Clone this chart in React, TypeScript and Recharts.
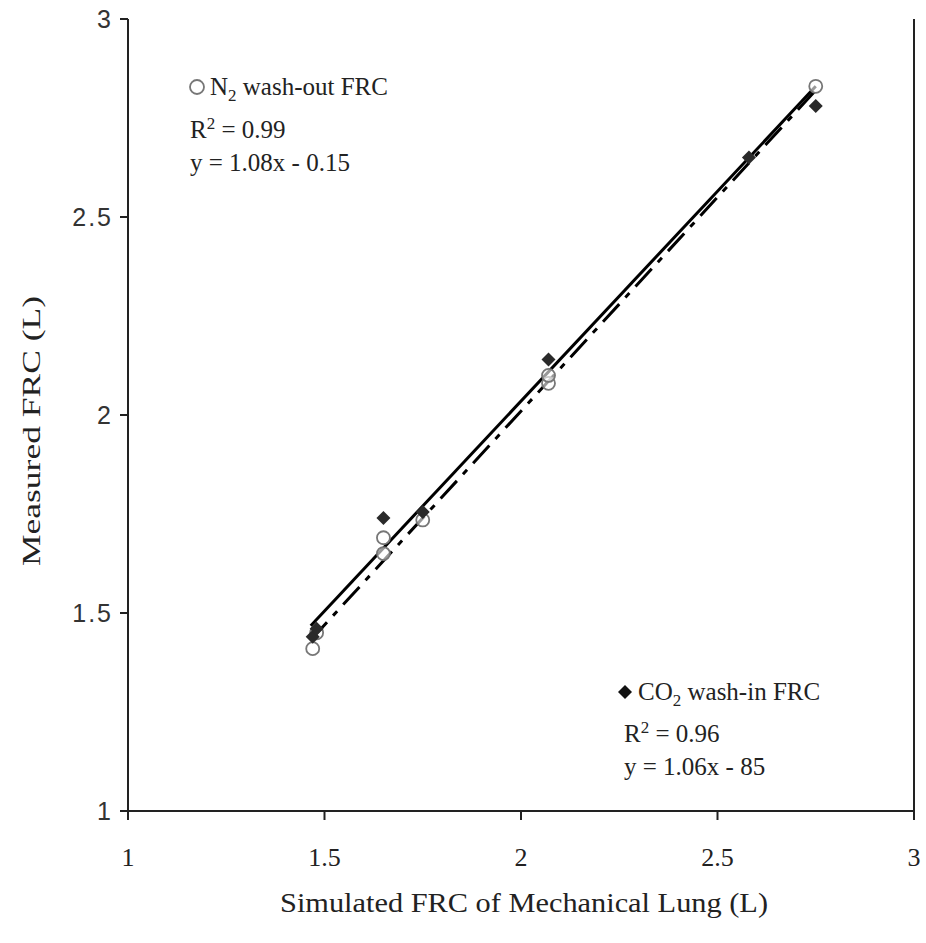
import { ComposedChart, XAxis, YAxis, Scatter, Line, ReferenceLine } from "recharts";

const n2X = [1.47, 1.48, 1.65, 1.65, 1.75, 2.07, 2.07, 2.75];
const n2Y = [1.41, 1.45, 1.69, 1.65, 1.735, 2.08, 2.1, 2.83];
const co2X = [1.47, 1.48, 1.65, 1.75, 2.07, 2.58, 2.75];
const co2Y = [1.44, 1.46, 1.74, 1.755, 2.14, 2.65, 2.78];

// trend line end points
const fitX = [1.465, 2.75];
const n2FitY = [1.432, 2.82];
const co2FitY = [1.468, 2.83];

const ticks = [1, 1.5, 2, 2.5, 3];

const zip = (xs: number[], ys: number[]) => xs.map((x, i) => ({ x, y: ys[i] }));
const n2Data = zip(n2X, n2Y);
const co2Data = zip(co2X, co2Y);
const n2Fit = zip(fitX, n2FitY);
const co2Fit = zip(fitX, co2FitY);

const serif = "'Liberation Serif', 'Times New Roman', serif";

// eslint-disable-next-line @typescript-eslint/no-explicit-any
const OpenCircle = (p: any) => (
  <circle cx={p.cx} cy={p.cy} r={6.5} fill="#fff" fillOpacity={0.6} stroke="#777" strokeWidth={1.8} />
);

// eslint-disable-next-line @typescript-eslint/no-explicit-any
const Diamond = (p: any) => {
  const s = 7;
  return (
    <path
      d={`M${p.cx},${p.cy - s}L${p.cx + s},${p.cy}L${p.cx},${p.cy + s}L${p.cx - s},${p.cy}Z`}
      fill="#2a2a2a"
    />
  );
};

// eslint-disable-next-line @typescript-eslint/no-explicit-any
const YLabel = ({ viewBox }: any) => {
  const cx = 31;
  const cy = viewBox.y + viewBox.height / 2 + 16;
  return (
    <text
      x={cx}
      y={cy}
      transform={`rotate(-90 ${cx} ${cy})`}
      textAnchor="middle"
      dominantBaseline="central"
      fontFamily={serif}
      fontSize={26}
      fill="#222"
      textLength={270}
      lengthAdjust="spacingAndGlyphs"
    >
      Measured FRC (L)
    </text>
  );
};

// eslint-disable-next-line @typescript-eslint/no-explicit-any
const XLabel = ({ viewBox }: any) => (
  <text
    x={viewBox.x + viewBox.width / 2 + 3}
    y={viewBox.y + 101}
    textAnchor="middle"
    fontFamily={serif}
    fontSize={27}
    fill="#222"
    textLength={488}
    lengthAdjust="spacingAndGlyphs"
  >
    Simulated FRC of Mechanical Lung (L)
  </text>
);

const textStyle: React.CSSProperties = {
  position: "absolute",
  fontFamily: serif,
  fontSize: 25,
  color: "#222",
  lineHeight: "37px",
  whiteSpace: "nowrap",
};

export default function App() {
  return (
    <div style={{ position: "absolute", left: 0, top: 0, width: 926, height: 943, background: "#fff" }}>
      <ComposedChart width={926} height={943} margin={{ top: 19, right: 12, bottom: 32, left: 0 }}>
        <XAxis
          type="number"
          dataKey="x"
          domain={[1, 3]}
          ticks={ticks}
          allowDataOverflow
          height={100}
          tickSize={9}
          tickMargin={28}
          stroke="#222"
          strokeWidth={2}
          tick={{ fontFamily: serif, fontSize: 26, fill: "#222" }}
          label={<XLabel />}
        />
        <YAxis
          type="number"
          dataKey="y"
          domain={[1, 3]}
          ticks={ticks}
          allowDataOverflow
          width={128}
          tickSize={8}
          tickMargin={7}
          stroke="#222"
          strokeWidth={2}
          tick={{ fontFamily: "'Liberation Sans', sans-serif", fontSize: 25, fill: "#333", letterSpacing: 2 }}
          label={<YLabel />}
        />
        <ReferenceLine x={3} stroke="#222" strokeWidth={2} />
        <Line data={n2Fit} dataKey="y" stroke="#000" strokeWidth={3} strokeDasharray="24 9 6 9" dot={false} isAnimationActive={false} />
        <Line data={co2Fit} dataKey="y" stroke="#000" strokeWidth={3} dot={false} isAnimationActive={false} />
        <Scatter data={n2Data} shape={OpenCircle} isAnimationActive={false} />
        <Scatter data={co2Data} shape={Diamond} isAnimationActive={false} />
      </ComposedChart>

      <div style={{ ...textStyle, left: 188, top: 68 }}>
        <svg width={18} height={18} style={{ verticalAlign: "-1px", marginRight: 4 }}>
          <circle cx={9} cy={9} r={7} fill="none" stroke="#777" strokeWidth={1.8} />
        </svg>
        N<sub style={{ fontSize: 17 }}>2</sub> wash-out FRC
      </div>
      <div style={{ ...textStyle, left: 190, top: 105 }}>
        R<sup style={{ fontSize: 17 }}>2</sup> = 0.99
      </div>
      <div style={{ ...textStyle, left: 190, top: 144 }}>y = 1.08x - 0.15</div>

      <div style={{ ...textStyle, left: 616, top: 673 }}>
        <svg width={18} height={18} style={{ verticalAlign: "-1px", marginRight: 4 }}>
          <path d="M9,2L16,9L9,16L2,9Z" fill="#111" />
        </svg>
        CO<sub style={{ fontSize: 17 }}>2</sub> wash-in FRC
      </div>
      <div style={{ ...textStyle, left: 624, top: 709 }}>
        R<sup style={{ fontSize: 17 }}>2</sup> = 0.96
      </div>
      <div style={{ ...textStyle, left: 624, top: 748 }}>y = 1.06x - 85</div>
    </div>
  );
}
